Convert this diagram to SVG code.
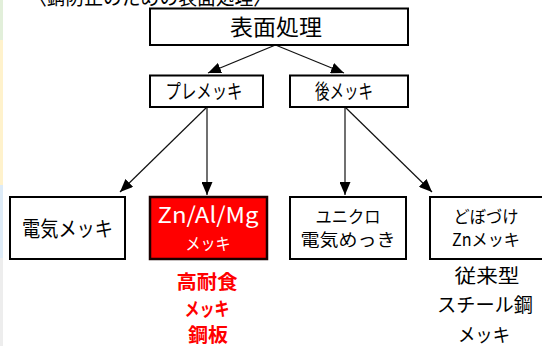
<svg xmlns="http://www.w3.org/2000/svg" width="542" height="346" viewBox="0 0 542 346">
<defs>
<marker id="ah" markerUnits="userSpaceOnUse" markerWidth="13" markerHeight="11" refX="13" refY="5.5" orient="auto">
<path d="M0,0 L13,5.5 L0,11 z" fill="#000"/>
</marker>
<style>
.box{fill:#fff;stroke:#000;stroke-width:2}
.red{fill:#ff0000;stroke:#1a0000;stroke-width:2.5}
.t{font-family:"Noto Sans CJK JP","Noto Sans",sans-serif;fill:#000;text-anchor:middle}
.w{fill:#fff}
.r{fill:#ff0000;font-weight:bold}
.conn{stroke:#111;stroke-width:1.2;fill:none;marker-end:url(#ah)}
</style>
</defs>
<rect x="0" y="0" width="542" height="346" fill="#fff"/>
<rect x="0" y="0" width="3" height="40" fill="#e2efda"/>
<rect x="0" y="40" width="3" height="145" fill="#fff2cc"/>
<rect x="0" y="185" width="3" height="73" fill="#ddebf7"/>
<rect x="0" y="258" width="3" height="88" fill="#ededed"/>
<text class="t" x="150" y="5" font-size="20" textLength="244" lengthAdjust="spacingAndGlyphs">〈錆防止のための表面処理〉</text>
<g id="connectors">
<line class="conn" x1="275.5" y1="45" x2="208" y2="73"/>
<line class="conn" x1="275.5" y1="45" x2="344" y2="73"/>
<line class="conn" x1="207" y1="107" x2="120" y2="192"/>
<line class="conn" x1="207" y1="107" x2="207" y2="195"/>
<line class="conn" x1="345" y1="107" x2="345" y2="195"/>
<line class="conn" x1="345" y1="107" x2="432" y2="192"/>
</g>
<g id="n-hyomen">
<rect class="box" x="150" y="8.5" width="258" height="36.5"/>
<text class="t" x="276" y="35" font-size="22" textLength="92" lengthAdjust="spacingAndGlyphs">表面処理</text>
</g>
<g id="n-pre">
<rect class="box" x="150" y="75.5" width="113" height="31.5"/>
<text class="t" x="204" y="99" font-size="20" textLength="77" lengthAdjust="spacingAndGlyphs">プレメッキ</text>
</g>
<g id="n-ato">
<rect class="box" x="290" y="75.5" width="118" height="31.5"/>
<text class="t" x="344" y="99" font-size="20" textLength="58" lengthAdjust="spacingAndGlyphs">後メッキ</text>
</g>
<g id="n-denki">
<rect class="box" x="10" y="197" width="115" height="62"/>
<text class="t" x="67.5" y="236" font-size="21" textLength="91" lengthAdjust="spacingAndGlyphs">電気メッキ</text>
</g>
<g id="n-znalmg">
<rect class="red" x="150" y="197" width="117" height="62"/>
<text class="t w" x="208" y="223" font-size="22" textLength="101" lengthAdjust="spacingAndGlyphs">Zn/Al/Mg</text>
<text class="t w" x="208" y="250" font-size="17" textLength="45" lengthAdjust="spacingAndGlyphs">メッキ</text>
</g>
<g id="n-unichro">
<rect class="box" x="290" y="197" width="116" height="62"/>
<text class="t" x="348" y="223" font-size="17" textLength="65" lengthAdjust="spacingAndGlyphs">ユニクロ</text>
<text class="t" x="348" y="246" font-size="17" textLength="95" lengthAdjust="spacingAndGlyphs">電気めっき</text>
</g>
<g id="n-dobozuke">
<rect class="box" x="430" y="197" width="130" height="62"/>
<text class="t" x="486" y="223" font-size="17" textLength="65" lengthAdjust="spacingAndGlyphs">どぼづけ</text>
<text class="t" x="486" y="246" font-size="17" textLength="68" lengthAdjust="spacingAndGlyphs">Znメッキ</text>
</g>
<g id="note-red">
<text class="t r" x="207" y="289" font-size="19" textLength="61" lengthAdjust="spacingAndGlyphs">高耐食</text>
<text class="t r" x="207" y="316" font-size="19" textLength="45" lengthAdjust="spacingAndGlyphs">メッキ</text>
<text class="t r" x="208" y="342" font-size="19" textLength="40" lengthAdjust="spacingAndGlyphs">鋼板</text>
</g>
<g id="note-right">
<text class="t" x="487" y="283" font-size="19" textLength="65" lengthAdjust="spacingAndGlyphs">従来型</text>
<text class="t" x="485" y="312" font-size="19" textLength="96" lengthAdjust="spacingAndGlyphs">スチール鋼</text>
<text class="t" x="484" y="342" font-size="19" textLength="52" lengthAdjust="spacingAndGlyphs">メッキ</text>
</g>
</svg>
